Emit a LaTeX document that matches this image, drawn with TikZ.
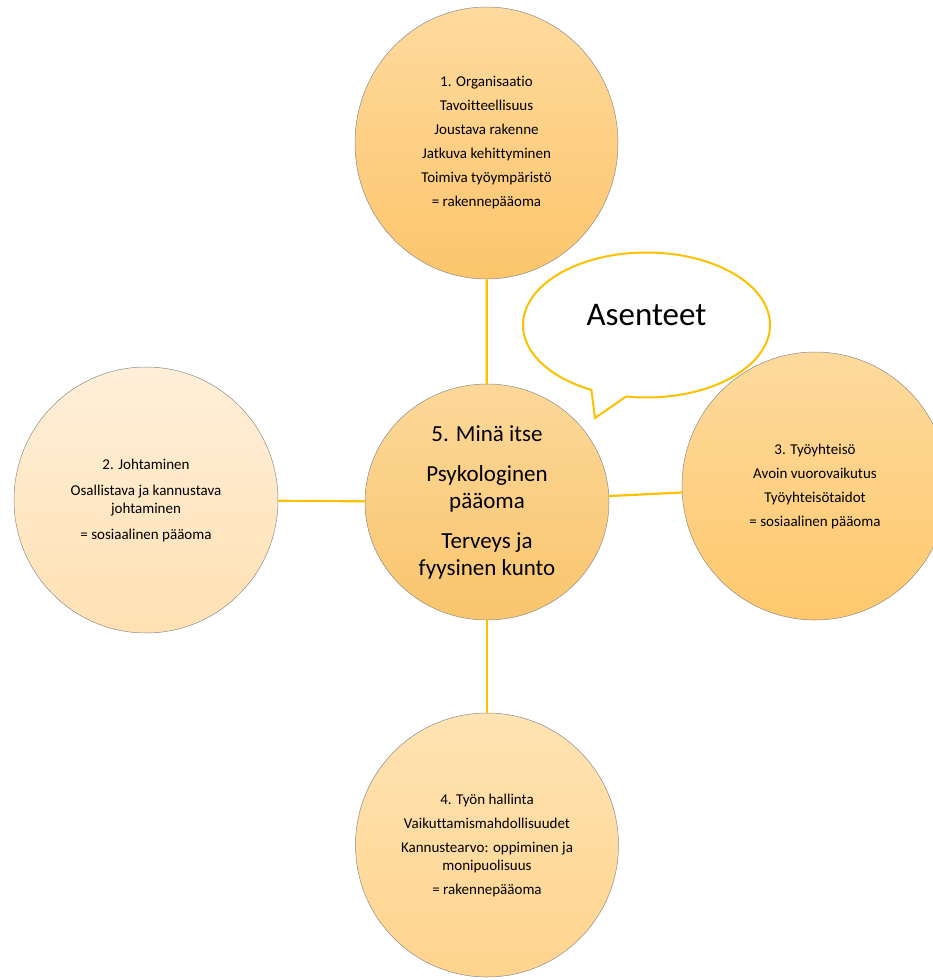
\documentclass[tikz,border=0pt]{standalone}
\usepackage{fontspec}
\setmainfont{Carlito}[Ligatures=CommonOff]
\usetikzlibrary{shapes.geometric,shapes.callouts}
\definecolor{gold}{HTML}{FFC000}
\begin{document}
\begin{tikzpicture}[x=1pt,y=-1pt,
  disc/.style={ellipse, draw=black!45, line width=0.5pt, align=center,
    text=black, inner sep=0pt, font=\fontsize{15}{18}\selectfont},
  link/.style={draw=gold, line width=2.2pt}]
\useasboundingbox (0,0) rectangle (933,980);
\clip (0,0) rectangle (933,980);

% the five areas
\node[disc, minimum width=263pt, minimum height=272pt,
  top color={rgb,255:red,255;green,218;blue,158}, bottom color={rgb,255:red,252;green,197;blue,107}]
  (org) at (486.5,143)
  {1. Organisaatio\\[6pt]Tavoitteellisuus\\[6pt]Joustava rakenne\\[6pt]Jatkuva kehittyminen\\[6pt]Toimiva työympäristö\\[6pt]= rakennepääoma};

\node[disc, minimum width=264pt, minimum height=266pt,
  top color={rgb,255:red,255;green,239;blue,217}, bottom color={rgb,255:red,255;green,225;blue,179}]
  (joht) at (146,500)
  {2. Johtaminen\\[8pt]Osallistava ja kannustava\\johtaminen\\[8pt]= sosiaalinen pääoma};

\node[disc, minimum width=266pt, minimum height=268pt,
  top color={rgb,255:red,253;green,218;blue,157}, bottom color={rgb,255:red,255;green,200;blue,108}]
  (yht) at (815,486)
  {3. Työyhteisö\\[6pt]Avoin vuorovaikutus\\[6pt]Työyhteisötaidot\\[6pt]= sosiaalinen pääoma};

\node[disc, minimum width=263pt, minimum height=264pt,
  top color={rgb,255:red,255;green,227;blue,179}, bottom color={rgb,255:red,255;green,212;blue,141}]
  (hall) at (487,845)
  {4. Työn hallinta\\[6pt]Vaikuttamismahdollisuudet\\[6pt]Kannustearvo: oppiminen ja\\monipuolisuus\\[6pt]= rakennepääoma};

\node[disc, minimum width=244pt, minimum height=236pt, font=\fontsize{23}{27}\selectfont,
  top color={rgb,255:red,252;green,216;blue,153}, bottom color={rgb,255:red,249;green,197;blue,109}]
  (mina) at (487,502)
  {5. Minä itse\\[13pt]Psykologinen\\pääoma\\[13pt]Terveys ja\\fyysinen kunto};

% links to the centre
\draw[link] (org) -- (mina);
\draw[link] (joht) -- (mina);
\draw[link] (mina) -- (yht);
\draw[link] (mina) -- (hall);

% speech bubble
\node[ellipse callout, draw=gold, line width=2pt, fill=white,
  minimum width=247pt, minimum height=145pt, inner sep=0pt,
  callout absolute pointer={(595,418)}, callout pointer arc=17,
  font=\fontsize{33}{40}\selectfont, text depth=21pt, text=black]
  (att) at (646.5,325) {Asenteet};
\end{tikzpicture}
\end{document}
